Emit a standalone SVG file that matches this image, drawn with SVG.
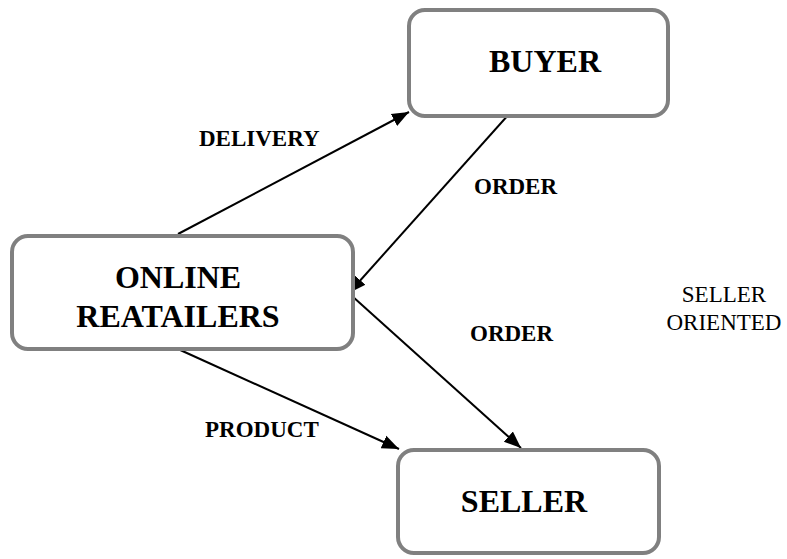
<svg xmlns="http://www.w3.org/2000/svg" width="787" height="559" viewBox="0 0 787 559">
<style>
.box{fill:#fff;stroke:#808080;stroke-width:4}
.nt{font-family:"Liberation Serif",serif;font-weight:bold;font-size:32px;text-anchor:middle;fill:#000}
.lb{font-family:"Liberation Serif",serif;font-weight:bold;font-size:23px;fill:#000}
.pl{font-family:"Liberation Serif",serif;font-size:23px;text-anchor:middle;fill:#000}
.cn{stroke:#000;stroke-width:2;fill:none;marker-end:url(#ah)}
</style>
<defs>
<marker id="ah" viewBox="0 0 10 10" refX="10" refY="5" markerWidth="17" markerHeight="17" markerUnits="userSpaceOnUse" orient="auto">
<path d="M0,1 L10,5 L0,9 z" fill="#000"/>
</marker>
</defs>
<rect width="787" height="559" fill="#fff"/>
<g id="connectors">
<line class="cn" x1="178" y1="234" x2="409" y2="112"/>
<line class="cn" x1="510" y1="113" x2="349" y2="293"/>
<line class="cn" x1="352" y1="296" x2="521" y2="448"/>
<line class="cn" x1="178" y1="349" x2="399" y2="449"/>
<text class="lb" x="199" y="146">DELIVERY</text>
<text class="lb" x="474" y="194">ORDER</text>
<text class="lb" x="470" y="341">ORDER</text>
<text class="lb" x="205" y="437">PRODUCT</text>
</g>
<g id="buyer">
<rect class="box" x="409" y="10" width="259" height="106" rx="16"/>
<text class="nt" x="545" y="72">BUYER</text>
</g>
<g id="online">
<rect class="box" x="12" y="236" width="341" height="113" rx="16"/>
<text class="nt" x="178" y="288">ONLINE</text>
<text class="nt" x="178" y="327">REATAILERS</text>
</g>
<g id="seller">
<rect class="box" x="398" y="450" width="261" height="103" rx="16"/>
<text class="nt" x="524" y="512">SELLER</text>
</g>
<g id="note">
<text class="pl" x="724" y="302">SELLER</text>
<text class="pl" x="724" y="330">ORIENTED</text>
</g>
</svg>
